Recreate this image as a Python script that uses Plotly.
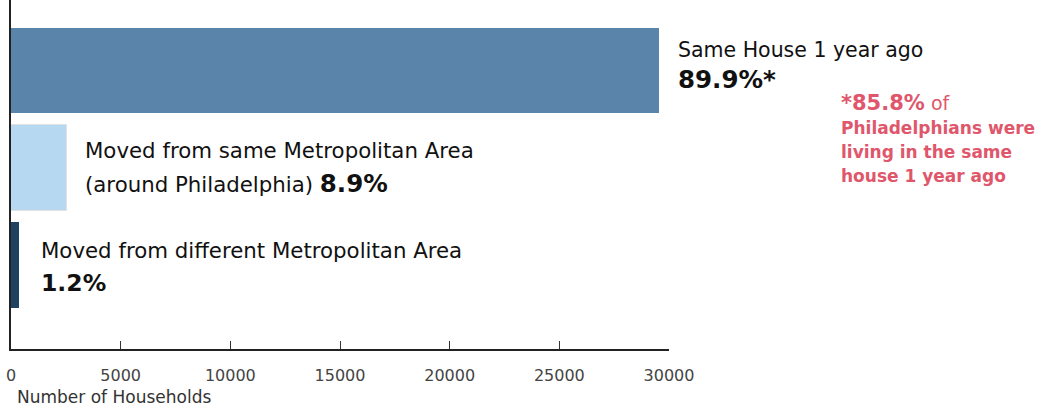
import plotly.graph_objects as go

categories = ["Same House 1 year ago", "Moved from same Metropolitan Area", "Moved from different Metropolitan Area"]
households = [29600, 2550, 400]
shares = ["89.9%*", "8.9%", "1.2%"]
colors = ["#5a84aa", "#b6d9f1", "#1f4262"]
positions = [2, 1, 0]
tick_vals = [0, 5000, 10000, 15000, 20000, 25000, 30000]
note_lines = ["<b><span style='font-size:21px'>*85.8%</span></b><span style='font-size:19px'> of</span>",
              "<b>Philadelphians were</b>", "<b>living in the same</b>", "<b>house 1 year ago</b>"]
note_y_px = [103, 128, 152, 176]

FONT = "DejaVu Sans"
LBL = 21.3
NUM = 24.5
PLOT_H = 349
fig = go.Figure()
fig.add_trace(go.Bar(
    x=households, y=positions, orientation="h", width=0.89,
    marker=dict(color=colors, line=dict(color=["#ffffff", "#e2e2e2", "#ffffff"], width=1)),
    hoverinfo="skip", showlegend=False,
))

anns = []
# Row 1
anns.append(dict(x=households[0], y=positions[0], xref="x", yref="y", xanchor="left", yanchor="middle",
                 xshift=16, yshift=21, text=categories[0], showarrow=False,
                 font=dict(family=FONT, size=20.5, color="#111")))
anns.append(dict(x=households[0], y=positions[0], xref="x", yref="y", xanchor="left", yanchor="middle",
                 xshift=16, yshift=-9, text="<b>" + shares[0] + "</b>", showarrow=False,
                 font=dict(family=FONT, size=NUM, color="#111")))
# Row 2
anns.append(dict(x=households[1], y=positions[1], xref="x", yref="y", xanchor="left", yanchor="middle",
                 xshift=16, yshift=18, text=categories[1], showarrow=False,
                 font=dict(family=FONT, size=LBL, color="#111")))
anns.append(dict(x=households[1], y=positions[1], xref="x", yref="y", xanchor="left", yanchor="middle",
                 xshift=16, yshift=-15,
                 text="(around Philadelphia) <b><span style='font-size:%spx'>%s</span></b>" % (NUM, shares[1]),
                 showarrow=False, font=dict(family=FONT, size=LBL, color="#111")))
# Row 3
anns.append(dict(x=households[2], y=positions[2], xref="x", yref="y", xanchor="left", yanchor="middle",
                 xshift=19, yshift=15, text=categories[2], showarrow=False,
                 font=dict(family=FONT, size=LBL, color="#111")))
anns.append(dict(x=households[2], y=positions[2], xref="x", yref="y", xanchor="left", yanchor="middle",
                 xshift=19, yshift=-18, text="<b>" + shares[2] + "</b>", showarrow=False,
                 font=dict(family=FONT, size=NUM - 1, color="#111")))
# Footnote
red = "#e0566b"
for line, py in zip(note_lines, note_y_px):
    anns.append(dict(x=(839 - 11) / 658, y=1 - py / PLOT_H, xref="paper", yref="paper",
                     xanchor="left", yanchor="middle", align="left", showarrow=False, text=line,
                     font=dict(family=FONT, size=17, color=red)))
# Axis title
anns.append(dict(x=0, y=0, xref="paper", yref="paper", xanchor="left", yanchor="middle",
                 xshift=4, yshift=-48, text="Number of Households", showarrow=False,
                 font=dict(family=FONT, size=17, color="#333")))

fig.update_layout(
    width=1042, height=409,
    margin=dict(l=11, r=373, t=0, b=60),
    paper_bgcolor="white", plot_bgcolor="white",
    annotations=anns,
    bargap=0,
    xaxis=dict(range=[0, 30000], tickvals=tick_vals, tickformat="d", ticks="inside", ticklen=8, tickcolor="#333",
               showline=True, linecolor="#222", linewidth=1.5, showgrid=False, zeroline=False,
               tickfont=dict(family=FONT, size=16, color="#444"), ticklabelstandoff=11),
    yaxis=dict(range=[-0.86, 2.73], showticklabels=False, ticks="", showgrid=False, zeroline=False,
               showline=True, linecolor="#222", linewidth=1.5),
)
fig.write_html("out.html")
